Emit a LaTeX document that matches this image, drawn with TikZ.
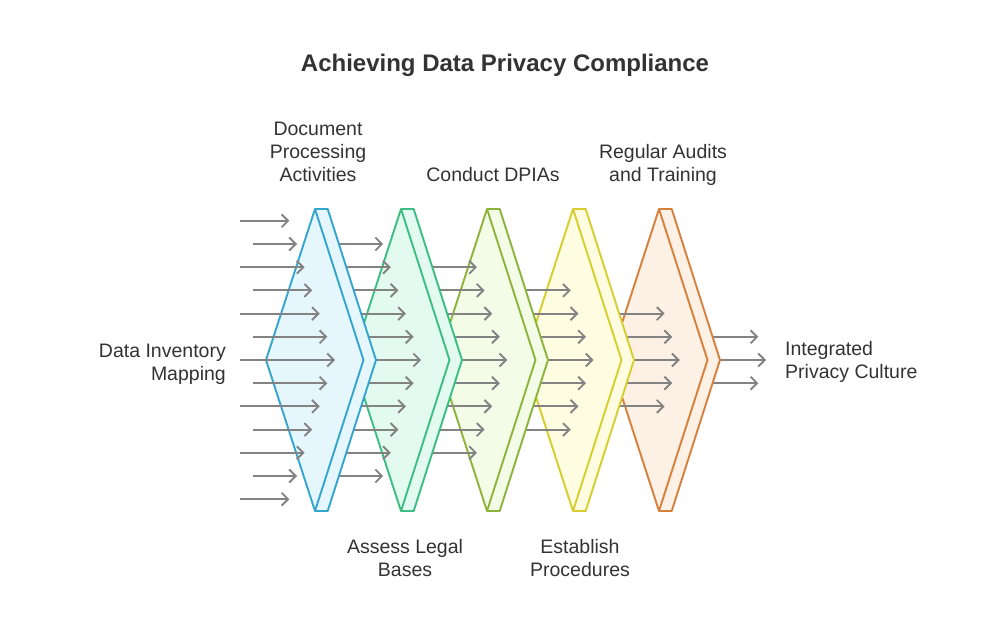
\documentclass[tikz,border=0pt]{standalone}
\usepackage{fontspec}
\setmainfont{Liberation Sans}
\usetikzlibrary{arrows.meta}
\definecolor{txt}{HTML}{333333}
\definecolor{arr}{HTML}{838383}
\definecolor{s0}{HTML}{34A5CD}\definecolor{f0}{HTML}{E6F6FD}
\definecolor{s1}{HTML}{3CBE82}\definecolor{f1}{HTML}{E3FAF0}
\definecolor{s2}{HTML}{8CB43C}\definecolor{f2}{HTML}{F3FCE6}
\definecolor{s3}{HTML}{D7CD2D}\definecolor{f3}{HTML}{FEFDE1}
\definecolor{s4}{HTML}{D7803C}\definecolor{f4}{HTML}{FDF0E4}
\tikzset{
  flowarrow/.style={draw=arr, line width=1.9pt, -{Straight Barb[length=6.5pt,width=13pt,line width=1.9pt]}},
  stageface/.style={line width=1.9pt, line join=round},
  lbl/.style={text=txt, inner sep=0pt, font=\fontsize{19.5}{23}\selectfont},
  ttl/.style={text=txt, inner sep=0pt, font=\fontsize{24}{28}\selectfont\bfseries},
}
% draw stage with top-left x #1, stroke #2, fill #3
\newcommand{\drawstage}[3]{%
  \fill[#3] (#1,209) -- (#1+12.7,209) -- (#1+61,360) -- (#1+12.7,511) -- (#1,511) -- (#1-49,360) -- cycle;
  \draw[stageface, draw=#2] (#1,209) -- (#1+12.7,209) -- (#1+61,360) -- (#1+12.7,511) -- (#1,511);
  \draw[stageface, draw=#2] (#1,209) -- (#1+48.5,360) -- (#1,511) -- (#1-49,360) -- cycle;
}
% arrow group: #1 = tip base, #2 = half count, #3 = start x
\newcommand{\arrowgroup}[3]{%
  \foreach \d in {-#2,...,#2}{%
    \pgfmathsetmacro{\ad}{abs(\d)}%
    \draw[flowarrow] (#3,360+23.2*\d) -- (#1-7.6*\ad,360+23.2*\d);
  }%
}
\begin{document}
\begin{tikzpicture}[x=1pt,y=-1pt]
\useasboundingbox (0,0) rectangle (1000,628);
\fill[white] (0,0) rectangle (1000,628);
\arrowgroup{766}{1}{680}
\drawstage{659}{s4}{f4}
\arrowgroup{679.8}{2}{595}
\drawstage{573}{s3}{f3}
\arrowgroup{593.6}{3}{509}
\drawstage{487}{s2}{f2}
\arrowgroup{507.4}{4}{423}
\drawstage{401}{s1}{f1}
\arrowgroup{421.2}{5}{332}
\drawstage{315}{s0}{f0}
% incoming arrows
\foreach \d in {-6,...,6}{%
  \pgfmathsetmacro{\ad}{abs(\d)}%
  \pgfmathsetmacro{\sx}{isodd(\d) ? 253 : 240}%
  \draw[flowarrow] (\sx,360+23.2*\d) -- (335-7.6*\ad,360+23.2*\d);
}
% texts
\node[ttl] (title) at (505,65) {Achieving Data Privacy Compliance};
\node[lbl, align=center] (doc) at (318,152) {Document\\Processing\\Activities};
\node[lbl, align=center] (dpia) at (493,175) {Conduct DPIAs};
\node[lbl, align=center] (audit) at (663,165) {Regular Audits\\and Training};
\node[lbl, align=right, anchor=east] (inv) at (226,364) {Data Inventory\\Mapping};
\node[lbl, align=center] (legal) at (405,558) {Assess Legal\\Bases};
\node[lbl, align=center] (proc) at (580,558) {Establish\\Procedures};
\node[lbl, align=left, anchor=west] (culture) at (785,362) {Integrated\\Privacy Culture};
\end{tikzpicture}
\end{document}
